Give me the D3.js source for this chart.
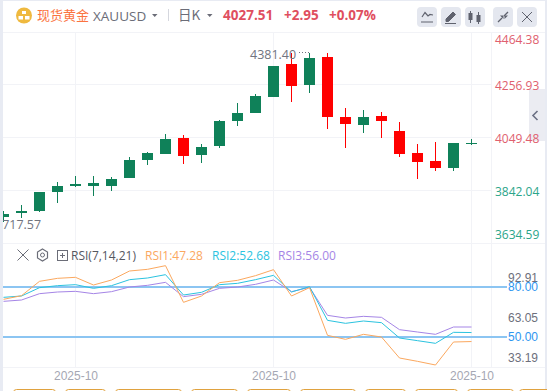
<!DOCTYPE html>
<html>
<head>
<meta charset="utf-8">
<title>XAUUSD</title>
<script src="https://cdn.jsdelivr.net/npm/d3@7"></script>
<style>
  html, body { margin: 0; padding: 0; background: #fff; overflow: hidden; }
  svg { display: block; font-family: "Open Sans", "Noto Sans CJK SC", sans-serif; }
  .axis path, .axis line { display: none; }
</style>
</head>
<body>
<script>
//pseudo-global data
var candleIndex = d3.range(27);
var opens  = [3736.6, 3752.3, 3760.1, 3834.7, 3858.2, 3858.2, 3858.2, 3889.6, 3960.2, 3983.8, 4046.6, 3979.9, 4015.2, 4114.4, 4144.6, 4207.4, 4336.9, 4254.5, 4364.4, 4128.9, 4097.6, 4132.9, 4074, 3987.7, 3956.3, 3928.9, 4024.56];
var closes = [3748.4, 3760.1, 3834.7, 3858.2, 3866.1, 3870, 3885.7, 3960.2, 3987.7, 4042.6, 3975.9, 4011.2, 4113.3, 4144.6, 4211.3, 4330.2, 4250.6, 4360.4, 4128.9, 4101.5, 4128.9, 4113.3, 3983.8, 3952.4, 3928.9, 4026.9, 4027.51];
var highs  = [3761.3, 3783.7, 3834.7, 3873.9, 3897.5, 3897.5, 3893.5, 3972, 3991.6, 4062.2, 4058.3, 4023, 4117.2, 4183.9, 4219.2, 4330.2, 4381.4, 4381.4, 4380, 4164.3, 4156.4, 4148.6, 4109.3, 4023, 4030.9, 4026.9, 4042.6];
var lows   = [3717.57, 3733.9, 3756.2, 3792.7, 3855.5, 3819, 3838.6, 3889.6, 3940.6, 3983.8, 3944.5, 3948.5, 4007.3, 4093.6, 4144.6, 4207.4, 4187.8, 4223.1, 4081.9, 4007.3, 4066.2, 4046.6, 3972, 3885.7, 3917.1, 3917.1, 4019.1];

var rsi1 = [72.6, 74.8, 83.4, 85.2, 85.8, 81.2, 84.2, 89.6, 90.6, 92.8, 70.8, 74.6, 82.6, 84.0, 86.8, 90.4, 74.6, 79.6, 51.0, 48.6, 51.6, 50.0, 37.4, 35.4, 33.2, 47.0, 47.28];
var rsi2 = [73.8, 74.6, 79.6, 80.8, 81.4, 79.2, 80.8, 84.4, 85.4, 87.4, 75.2, 76.8, 81.4, 82.2, 84.4, 87.0, 77.0, 80.2, 60.0, 58.2, 59.6, 58.6, 49.4, 47.8, 46.2, 52.8, 52.68];
var rsi3 = [71.4, 72.2, 76.0, 77.0, 77.4, 76.0, 77.2, 80.0, 81.0, 82.8, 74.2, 75.6, 79.2, 80.0, 81.6, 84.2, 77.2, 79.8, 63.0, 61.4, 62.4, 61.8, 54.4, 53.0, 51.6, 56.0, 56.0];

var priceTicks = [4464.38, 4256.93, 4049.48, 3842.04, 3634.59];
var rsiTicks = [92.91, 63.05, 33.19];
var rsiLevels = [80, 50];
var timeTicks = [4, 15, 26];
var timeLabel = "2025-10";

//frame dimensions
var width = 547, height = 391;
var green = "#0f8159", red = "#ff0000";

var svg = d3.select("body").append("svg")
  .attr("width", width)
  .attr("height", height);

svg.append("rect").attr("width", width).attr("height", height).attr("fill", "#fff");

//scales
var x = d3.scalePoint().domain(candleIndex).range([3.5, 471.5]);
var priceY = d3.scaleLinear().domain([3634.59, 4464.38]).range([243, 31.5]);
var rsiY = d3.scaleLinear().domain([50, 80]).range([337, 287]);
var rsiLabelY = d3.scaleLinear().domain([33.19, 92.91]).range([358, 278]);

//grid
var gridColor = "#f2f3f7";
var grid = svg.append("g").attr("stroke", gridColor).attr("shape-rendering", "crispEdges");
grid.selectAll(".h").data(priceTicks.slice(1, 4)).enter().append("line")
  .attr("x1", 3).attr("x2", 491)
  .attr("y1", function(d){ return Math.round(priceY(d)) + 0.5; })
  .attr("y2", function(d){ return Math.round(priceY(d)) + 0.5; })
  .attr("stroke-width", 1);
grid.selectAll(".v").data(timeTicks).enter().append("line")
  .attr("x1", function(d){ return x(d); }).attr("x2", function(d){ return x(d); })
  .attr("y1", 32).attr("y2", 367);
[32, 243, 367].forEach(function(y){
  grid.append("line").attr("x1", 3).attr("x2", 545).attr("y1", y + 0.5).attr("y2", y + 0.5);
});
grid.append("line").attr("x1", 491.5).attr("x2", 491.5).attr("y1", 32).attr("y2", 367);

//candles
var candles = svg.append("g").attr("shape-rendering", "crispEdges");
function candleColor(i){ return closes[i] >= opens[i] ? green : red; }
candles.selectAll(".wick").data(candleIndex).enter().append("rect")
  .attr("x", function(i){ return x(i) - 0.5; })
  .attr("width", 1)
  .attr("y", function(i){ return priceY(highs[i]); })
  .attr("height", function(i){ return priceY(lows[i]) - priceY(highs[i]); })
  .attr("fill", candleColor);
candles.selectAll(".body").data(candleIndex).enter().append("rect")
  .attr("x", function(i){ return x(i) - 5.5; })
  .attr("width", 11)
  .attr("y", function(i){ return priceY(Math.max(opens[i], closes[i])); })
  .attr("height", function(i){ return Math.max(1, Math.abs(priceY(opens[i]) - priceY(closes[i]))); })
  .attr("fill", candleColor);

//high and low notes
svg.append("text").attr("x", 250).attr("y", 58.5).attr("font-size", 12.5).attr("fill", "#71747f").text("4381.40");
svg.append("line").attr("x1", 299).attr("x2", 309).attr("y1", 52.5).attr("y2", 52.5)
  .attr("stroke", "#71747f").attr("stroke-dasharray", "1 2");
svg.append("text").attr("x", -5).attr("y", 229).attr("font-size", 12.5).attr("fill", "#71747f").text("3717.57");

//collapse tab at the right, under the axis labels
svg.append("rect").attr("x", 529).attr("y", 89).attr("width", 16).attr("height", 52).attr("fill", "#ebecf2");
svg.append("path").attr("d", "M537.5 111L533 115.5L537.5 120").attr("stroke", "#6b7084").attr("stroke-width", 1.6).attr("fill", "none");

//price axis
var priceAxis = svg.append("g").attr("class", "axis").attr("transform", "translate(495,0)")
  .call(d3.axisRight(priceY).tickValues(priceTicks).tickSize(0).tickPadding(0).tickFormat(d3.format(".2f")));
priceAxis.selectAll("text")
  .attr("font-size", 12)
  .attr("font-family", "\"Open Sans\", sans-serif")
  .attr("fill", function(d){ return d > 4000 ? "#e0606e" : "#2ba58a"; })
  .attr("transform", function(d){
    return "translate(0," + (d === priceTicks[0] ? 8 : d === priceTicks[4] ? -8 : 1.5) + ")";
  });

//rsi levels
svg.selectAll(".level").data(rsiLevels).enter().append("line")
  .attr("x1", 3).attr("x2", 507)
  .attr("y1", function(d){ return rsiY(d); })
  .attr("y2", function(d){ return rsiY(d); })
  .attr("stroke", "#8cc5f2").attr("stroke-width", 2);

//rsi lines
var rsiLine = d3.line().x(function(d, i){ return x(i); }).y(function(d){ return rsiY(d); });
[[rsi3, "#a585e6"], [rsi2, "#2bc3df"], [rsi1, "#fba85f"]].forEach(function(s){
  svg.append("path").attr("d", rsiLine(s[0])).attr("fill", "none").attr("stroke", s[1]).attr("stroke-width", 1);
});

//rsi axis labels sit on their own spacing in the picture
var rsiAxis = svg.append("g").attr("class", "axis").attr("transform", "translate(508,0)")
  .call(d3.axisRight(rsiLabelY).tickValues(rsiTicks).tickSize(0).tickPadding(0).tickFormat(d3.format(".2f")));
rsiAxis.selectAll("text").attr("font-size", 12).attr("fill", "#6d6f7c");
var levelAxis = svg.append("g").attr("class", "axis").attr("transform", "translate(508,0)")
  .call(d3.axisRight(rsiY).tickValues(rsiLevels).tickSize(0).tickPadding(0).tickFormat(d3.format(".2f")));
levelAxis.selectAll("text").attr("font-size", 12).attr("fill", "#2e96f0");

//time axis
var timeAxis = svg.append("g").attr("class", "axis").attr("transform", "translate(0,368)")
  .call(d3.axisBottom(x).tickValues(timeTicks).tickSize(0).tickPadding(0).tickFormat(function(){ return timeLabel; }));
timeAxis.selectAll("text").attr("font-size", 12).attr("fill", "#a5a7b3").attr("dy", "1em");

//rsi header
var rsiHeader = [["RSI(7,14,21)", 71, "#55575f"], ["RSI1:47.28", 145, "#fba85f"], ["RSI2:52.68", 212, "#2bc3df"], ["RSI3:56.00", 278, "#a585e6"]];
svg.selectAll(".rsiHead").data(rsiHeader).enter().append("text")
  .attr("x", function(d){ return d[1]; }).attr("y", 260)
  .attr("font-size", 12)
  .attr("fill", function(d){ return d[2]; })
  .text(function(d){ return d[0]; });
var iconGray = "#6b6d78";
svg.append("path").attr("d", "M17.5 249.5L28.5 260.5M28.5 249.5L17.5 260.5").attr("stroke", iconGray).attr("fill", "none");
svg.append("path").attr("d", "M42.5 249L47.5 252V258L42.5 261L37.5 258V252Z").attr("stroke", iconGray).attr("fill", "none").attr("stroke-width", 1.2);
svg.append("circle").attr("cx", 42.5).attr("cy", 255).attr("r", 2).attr("stroke", iconGray).attr("fill", "none");
svg.append("rect").attr("x", 57.5).attr("y", 250.5).attr("width", 10).attr("height", 10).attr("stroke", iconGray).attr("fill", "none");
svg.append("path").attr("d", "M60 255.5H65M62.5 253V258").attr("stroke", iconGray).attr("fill", "none");

//header text
var header = svg.append("g");
header.append("text").attr("x", 37).attr("y", 20).attr("font-size", 13).attr("font-family", "\"Noto Sans CJK SC\"").attr("fill", "#fb7340").text("现货黄金");
header.append("text").attr("x", 93).attr("y", 20.5).attr("font-size", 13.5).attr("fill", "#6b6d78").text("XAUUSD");
header.append("text").attr("x", 178).attr("y", 19.5).attr("font-size", 13.5).attr("font-family", "\"Noto Sans CJK SC\"").attr("fill", "#6b6d78").text("日K");
header.append("text").attr("x", 223).attr("y", 20).attr("font-size", 13.5).attr("font-weight", 700).attr("fill", "#df4f5f").text("4027.51");
header.append("text").attr("x", 284).attr("y", 20).attr("font-size", 13.5).attr("font-weight", 700).attr("fill", "#df4f5f").text("+2.95");
header.append("text").attr("x", 329).attr("y", 20).attr("font-size", 13.5).attr("font-weight", 700).attr("fill", "#df4f5f").text("+0.07%");
header.append("path").attr("d", "M152 14H157.5L154.75 17Z M207 14H212.5L209.75 17Z").attr("fill", "#6b6d78");
header.append("line").attr("x1", 168.5).attr("x2", 168.5).attr("y1", 9).attr("y2", 21).attr("stroke", "#d5d7de");

//gold badge
header.append("circle").attr("cx", 24).attr("cy", 15.5).attr("r", 8).attr("fill", "#efb93f");
header.append("path").attr("d", "M22 11H26V14H22Z M18.5 16H23V19.5H18.5Z M25 16H29.5V19.5H25Z").attr("fill", "#fff");

//toolbar buttons
var buttonX = [417, 441, 465, 493, 517];
header.selectAll(".btn").data(buttonX).enter().append("rect")
  .attr("x", function(d){ return d; }).attr("y", 7)
  .attr("width", 20).attr("height", 20).attr("rx", 4)
  .attr("fill", "#e4e7ef");
var ic = "#5f626e";
header.append("path").attr("d", "M421 22H433M422 17L425 12.5L428 16L430 14.5L433 15").attr("stroke", ic).attr("fill", "none").attr("stroke-width", 1.2);
header.append("path").attr("d", "M446 19L453 12L455.5 14.5L448.5 21.5H446ZM445 23.5H456").attr("fill", ic).attr("stroke", ic);
header.append("path").attr("d", "M470.5 11V23M478.5 12V24").attr("stroke", ic);
header.append("path").attr("d", "M468.5 13H472.5V20H468.5ZM476.5 15H480.5V22H476.5Z").attr("fill", ic);
header.append("path").attr("d", "M498 22L502 18M508 12L504 16").attr("stroke", ic).attr("stroke-width", 1.3);
header.append("path").attr("d", "M500 15.5L503.5 15.5V19ZM504.5 19L504.5 15.5H508Z").attr("fill", ic);
header.append("path").attr("d", "M522 12L532 22M532 12L522 22").attr("stroke", ic).attr("fill", "none");

//page edges
svg.append("rect").attr("x", 0).attr("y", 0).attr("width", 3).attr("height", height).attr("fill", "#e8ebf3");
svg.append("rect").attr("x", 0).attr("y", 0).attr("width", width).attr("height", 1).attr("fill", "#e8ebf3");
svg.append("rect").attr("x", 545).attr("y", 0).attr("width", 2).attr("height", height).attr("fill", "#e8ebf3");

//tabs cut off at the bottom
var tabStarts = [13, 65, 115, 191, 247, 300, 365, 415, 467, 519];
var tabEnds = [55, 105, 181, 237, 290, 355, 405, 457, 513, 560];
svg.selectAll(".tab").data(tabStarts).enter().append("rect")
  .attr("x", function(d){ return d + 0.5; }).attr("y", 389.5)
  .attr("width", function(d, i){ return tabEnds[i] - d; })
  .attr("height", 12).attr("rx", 3)
  .attr("fill", "#fff").attr("stroke", "#e0a23f");
</script>
</body>
</html>
